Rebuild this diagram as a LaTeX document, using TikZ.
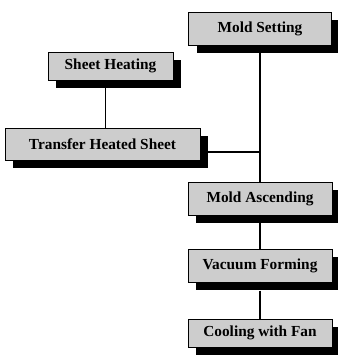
\documentclass[tikz,border=0pt]{standalone}
\usepackage{fontspec}
\setmainfont{Liberation Serif}
\usetikzlibrary{positioning,shadows}
\definecolor{StepGray}{RGB}{205,205,205}

\begin{document}
\begin{tikzpicture}[
x=0.75pt,y=-0.75pt,
node distance=25pt,
stepbox/.style={
    rectangle,
    draw=black,
    fill=StepGray,
    drop shadow={shadow xshift=6pt,shadow yshift=-6pt,fill=black,opacity=1},
    minimum width=108pt,
    minimum height=25pt,
    inner sep=2pt,
    align=center,
    font=\fontsize{11.5}{13}\selectfont\bfseries
},
link/.style={draw=black,line width=0.8pt}
]
\useasboundingbox (0,0) rectangle (337,358);

\node[stepbox,minimum width=107pt] (mold) at (260,28.5) {Mold Setting};
\node[stepbox,minimum width=94pt,minimum height=21pt] (heat) at (110.5,66) {Sheet Heating};
\node[stepbox,minimum width=146pt,minimum height=24pt] (transfer) at (102.5,144) {Transfer Heated Sheet};
\node[stepbox] (ascend) at (260,198.5) {Mold Ascending};
\node[stepbox,below=of ascend] (vacuum) {Vacuum Forming};
\node[stepbox,minimum height=21pt,below=27pt of vacuum] (cool) {Cooling with Fan};

% lines start at the shadow edges
\draw[link] ([xshift=2pt]transfer.north) -- ([xshift=2pt]transfer.north |- heat.south);
\draw[link] ([yshift=-6pt]mold.south) -- (ascend.north);
\draw[link] ([xshift=6pt,yshift=-6pt]transfer.east) -- ([yshift=-6pt]transfer.east -| mold.south);
\draw[link] ([yshift=-6pt]ascend.south) -- (vacuum.north);
\draw[link] ([yshift=-6pt]vacuum.south) -- (cool.north);

\end{tikzpicture}
\end{document}
